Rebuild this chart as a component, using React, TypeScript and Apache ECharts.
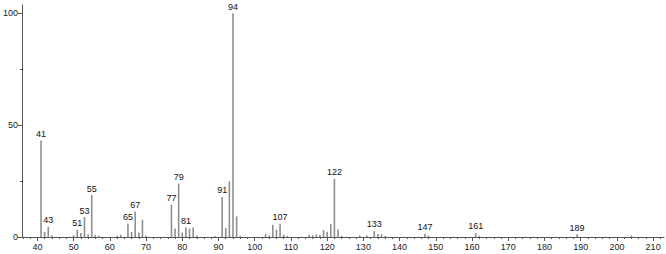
import React, { useEffect, useRef } from 'react';
import * as echarts from 'echarts';

const mz = [41, 42, 43, 44, 50, 51, 52, 53, 54, 55, 56, 57, 62, 63, 65, 66, 67, 68, 69, 70, 77, 78, 79, 80, 81, 82, 83, 84, 89, 91, 92, 93, 94, 95, 96, 103, 104, 105, 106, 107, 108, 109, 115, 116, 117, 118, 119, 120, 121, 122, 123, 124, 129, 131, 133, 134, 135, 136, 147, 148, 161, 162, 189, 204];
const intensity = [43.1, 2.3, 4.5, 0.8, 0.8, 3.3, 1.8, 8.9, 1.2, 18.7, 1.0, 0.6, 0.6, 1.0, 5.9, 2.3, 11.4, 2.0, 7.7, 0.7, 14.4, 3.8, 23.8, 2.0, 4.3, 3.7, 4.3, 0.7, 0.5, 17.9, 4.0, 24.9, 100, 9.2, 0.6, 1.3, 0.7, 5.5, 3.3, 5.9, 1.0, 0.5, 1.0, 0.8, 1.2, 1.0, 3.1, 2.4, 5.7, 26.0, 3.4, 0.5, 0.7, 0.7, 2.7, 1.3, 1.3, 0.5, 1.4, 0.6, 1.8, 0.5, 1.2, 0.7];
const labeledPeaks = [41, 43, 51, 53, 55, 65, 67, 77, 79, 81, 91, 94, 107, 122, 133, 147, 161, 189];
const xTickLabels = [40, 50, 60, 70, 80, 90, 100, 110, 120, 130, 140, 150, 160, 170, 180, 190, 200, 210];
const xMinorTicks = [36, 38, 42, 44, 46, 48, 52, 54, 56, 58, 62, 64, 66, 68, 72, 74, 76, 78, 82, 84, 86, 88, 92, 94, 96, 98, 102, 104, 106, 108, 112, 114, 116, 118, 122, 124, 126, 128, 132, 134, 136, 138, 142, 144, 146, 148, 152, 154, 156, 158, 162, 164, 166, 168, 172, 174, 176, 178, 182, 184, 186, 188, 192, 194, 196, 198, 202, 204, 206, 208, 212];
const yTickLabels = [0, 50, 100];
const yMinorTicks = [25, 75];

const FONT = 'Liberation Sans';

export default function App() {
  const ref = useRef<HTMLDivElement>(null);
  useEffect(() => {
    document.body.style.margin = '0';
    const chart = echarts.init(ref.current!, null, { renderer: 'svg' });
    const xMin = 35.75;
    const xMax = 213;
    const yMax = 103.7;
    const data = mz.map((m, i) => {
      const show = labeledPeaks.includes(m);
      return {
        value: [m, intensity[i]],
        label: { show },
      };
    });
    chart.setOption({
      animation: false,
      grid: { left: 22, right: 2, top: 5, bottom: 17, containLabel: false },
      xAxis: [
        {
          type: 'value',
          min: xMin,
          max: xMax,
          position: 'bottom',
          axisLine: { show: true, onZero: false, lineStyle: { color: '#555', width: 1 } },
          axisTick: { show: true, customValues: xTickLabels, length: 4, lineStyle: { color: '#555' } },
          axisLabel: { show: true, customValues: xTickLabels, fontSize: 9, color: '#222', margin: 5, fontFamily: FONT },
          splitLine: { show: false },
        },
        {
          type: 'value',
          min: xMin,
          max: xMax,
          position: 'bottom',
          axisLine: { show: false, onZero: false },
          axisTick: { show: true, customValues: xMinorTicks, length: 2, lineStyle: { color: '#555' } },
          axisLabel: { show: false },
          splitLine: { show: false },
        },
      ],
      yAxis: [
        {
          type: 'value',
          min: 0,
          max: yMax,
          position: 'left',
          axisLine: { show: true, onZero: false, lineStyle: { color: '#555', width: 1 } },
          axisTick: { show: true, customValues: yTickLabels, length: 4, lineStyle: { color: '#555' } },
          axisLabel: { show: true, customValues: yTickLabels, fontSize: 9, color: '#222', margin: 4, fontFamily: FONT },
          splitLine: { show: false },
        },
        {
          type: 'value',
          min: 0,
          max: yMax,
          position: 'left',
          axisLine: { show: false, onZero: false },
          axisTick: { show: true, customValues: yMinorTicks, length: 2, lineStyle: { color: '#555' } },
          axisLabel: { show: false },
          splitLine: { show: false },
        },
      ],
      series: [
        {
          type: 'bar',
          xAxisIndex: 0,
          yAxisIndex: 0,
          barWidth: 1.6,
          itemStyle: { color: '#8f8f8f' },
          label: {
            position: 'top',
            distance: 2,
            fontSize: 9,
            color: '#111',
            fontFamily: FONT,
            formatter: (p: any) => String(p.value[0]),
          },
          data,
        },
      ],
    });
    return () => chart.dispose();
  }, []);
  return <div ref={ref} style={{ width: 666, height: 254 }} />;
}
